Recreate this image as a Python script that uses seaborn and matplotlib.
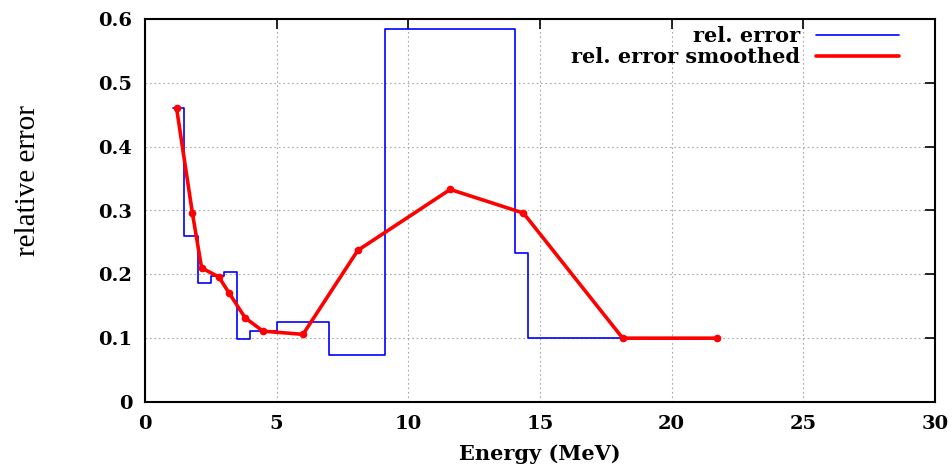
import numpy as np
import pandas as pd
import matplotlib
matplotlib.use("Agg")
import matplotlib.pyplot as plt
import seaborn as sns

# Histogram of the relative error: bin edges (MeV) and value per bin
bin_edges = [1.05, 1.5, 2.0, 2.5, 3.0, 3.5, 4.0, 5.0, 7.0, 9.1, 14.05, 14.55, 18.1]
bin_values = [0.46, 0.26, 0.186, 0.197, 0.204, 0.098, 0.111, 0.125, 0.074,
              0.585, 0.233, 0.10]

# Smoothed relative error
smooth_energy = [1.2, 1.8, 2.15, 2.8, 3.19, 3.8, 4.48, 6.0, 8.08, 11.59, 14.37, 18.14, 21.74]
smooth_error = [0.46, 0.296, 0.21, 0.196, 0.171, 0.132, 0.111, 0.106, 0.2375,
                0.333, 0.296, 0.10, 0.10]

x_ticks = [0, 5, 10, 15, 20, 25, 30]
y_ticks = [0, 0.1, 0.2, 0.3, 0.4, 0.5, 0.6]

sns.set_theme(style="white")
plt.rcParams["font.family"] = ["DejaVu Serif"]
plt.rcParams["text.color"] = "black"
plt.rcParams["axes.labelcolor"] = "black"

fig = plt.figure(figsize=(9.53, 4.65), dpi=100)
ax = fig.add_axes([145 / 953, 1 - 402 / 465, 790 / 953, 383 / 465])

step_df = pd.DataFrame({"E": bin_edges, "err": bin_values + [bin_values[-1]]})
smooth_df = pd.DataFrame({"E": smooth_energy, "err": smooth_error})

sns.lineplot(data=step_df, x="E", y="err", ax=ax, color="#0000ff", linewidth=1.2,
             drawstyle="steps-post", sort=False, estimator=None,
             label="rel. error", zorder=3)
sns.lineplot(data=smooth_df, x="E", y="err", ax=ax, color="#ff0000", linewidth=2.6,
             marker="o", markersize=5.5, markeredgewidth=0, sort=False,
             estimator=None, label="rel. error smoothed", zorder=4)

ax.set_xlim(0, 30)
ax.set_ylim(0, 0.6)
ax.set_xticks(x_ticks)
ax.set_yticks(y_ticks)
ax.set_xticklabels([f"{v:g}" for v in x_ticks])
ax.set_yticklabels([f"{v:g}" for v in y_ticks])

ax.grid(True, color="#a8a8a8", linestyle=(0, (1.5, 2.5)), linewidth=0.8)
ax.tick_params(direction="in", length=7, width=1.2, top=True, right=True,
               labelsize=14, pad=9, colors="black")
for lbl in ax.get_xticklabels() + ax.get_yticklabels():
    lbl.set_fontweight("bold")
for s in ax.spines.values():
    s.set_color("black")
    s.set_linewidth(1.5)

ax.set_xlabel("Energy (MeV)", fontsize=15, fontweight="bold", labelpad=8,
              color="black")
ax.set_ylabel("relative error", fontsize=21, family="Liberation Serif",
              color="black")
ax.yaxis.set_label_coords(-0.132, 0.577)

leg = ax.legend(loc="upper right", bbox_to_anchor=(0.954, 0.982),
                frameon=False, markerfirst=False, fontsize=15,
                handlelength=3.95, handletextpad=0.8, labelspacing=0.05,
                borderaxespad=0, borderpad=0)
for t in leg.get_texts():
    t.set_fontweight("bold")
    t.set_color("black")
for h in leg.get_lines():
    h.set_marker("")

fig.savefig("out.png", dpi=100)
